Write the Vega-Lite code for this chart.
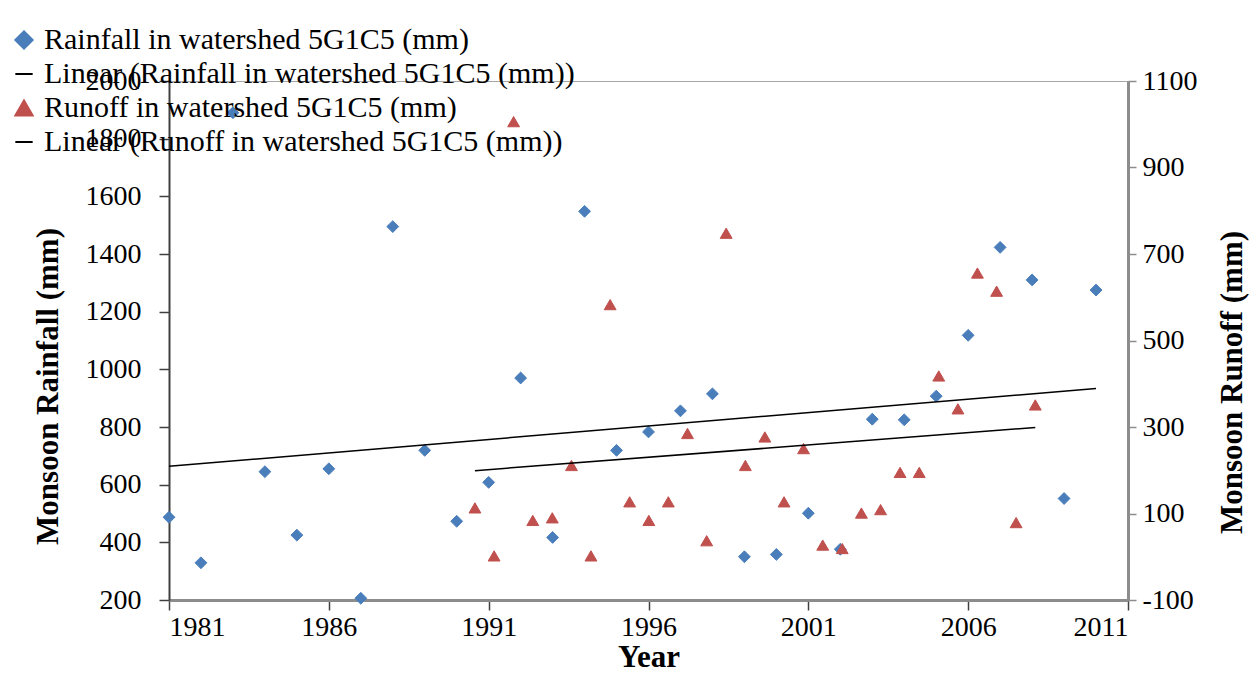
{
  "$schema": "https://vega.github.io/schema/vega-lite/v6.json",
  "autosize": {"type": "none"},
  "width": 959,
  "height": 519,
  "padding": {"left": 169, "top": 81, "right": 124, "bottom": 79},
  "background": "white",
  "config": {
    "font": "Liberation Serif",
    "view": {"stroke": "#a6a6a6", "strokeWidth": 1},
    "axis": {
      "labelFont": "Liberation Serif",
      "titleFont": "Liberation Serif",
      "labelFontSize": 28,
      "titleFontSize": 31,
      "titleFontWeight": "bold",
      "labelColor": "#000000",
      "titleColor": "#000000",
      "grid": false
    },
    "legend": {
      "labelFont": "Liberation Serif",
      "labelFontSize": 30,
      "labelColor": "#000000"
    }
  },
  "datasets": {
    "rain": [
      {"year": 1981, "rainfall": 487},
      {"year": 1982, "rainfall": 329},
      {"year": 1983, "rainfall": 1890},
      {"year": 1984, "rainfall": 645},
      {"year": 1985, "rainfall": 425},
      {"year": 1986, "rainfall": 655},
      {"year": 1987, "rainfall": 206},
      {"year": 1988, "rainfall": 1495},
      {"year": 1989, "rainfall": 719},
      {"year": 1990, "rainfall": 473},
      {"year": 1991, "rainfall": 608},
      {"year": 1992, "rainfall": 970},
      {"year": 1993, "rainfall": 417},
      {"year": 1994, "rainfall": 1548},
      {"year": 1995, "rainfall": 719},
      {"year": 1996, "rainfall": 783},
      {"year": 1997, "rainfall": 856},
      {"year": 1998, "rainfall": 915},
      {"year": 1999, "rainfall": 350},
      {"year": 2000, "rainfall": 358},
      {"year": 2001, "rainfall": 501},
      {"year": 2002, "rainfall": 376},
      {"year": 2003, "rainfall": 827},
      {"year": 2004, "rainfall": 825},
      {"year": 2005, "rainfall": 907},
      {"year": 2006, "rainfall": 1118},
      {"year": 2007, "rainfall": 1423},
      {"year": 2008, "rainfall": 1310},
      {"year": 2009, "rainfall": 552},
      {"year": 2010, "rainfall": 1275}
    ],
    "runoff": [
      {"x": 1990.57, "runoff": 113},
      {"x": 1991.17, "runoff": 2},
      {"x": 1991.78, "runoff": 1006},
      {"x": 1992.38, "runoff": 84},
      {"x": 1992.99, "runoff": 90},
      {"x": 1993.59, "runoff": 211},
      {"x": 1994.2, "runoff": 2},
      {"x": 1994.8, "runoff": 583},
      {"x": 1995.41, "runoff": 127},
      {"x": 1996.01, "runoff": 84},
      {"x": 1996.62, "runoff": 127},
      {"x": 1997.22, "runoff": 285},
      {"x": 1997.82, "runoff": 37},
      {"x": 1998.43, "runoff": 748},
      {"x": 1999.03, "runoff": 211},
      {"x": 1999.64, "runoff": 277},
      {"x": 2000.24, "runoff": 127},
      {"x": 2000.85, "runoff": 250},
      {"x": 2001.45, "runoff": 27},
      {"x": 2002.06, "runoff": 19},
      {"x": 2002.66, "runoff": 101},
      {"x": 2003.26, "runoff": 109},
      {"x": 2003.87, "runoff": 195},
      {"x": 2004.47, "runoff": 195},
      {"x": 2005.08, "runoff": 418},
      {"x": 2005.68, "runoff": 342},
      {"x": 2006.29, "runoff": 656},
      {"x": 2006.89, "runoff": 614},
      {"x": 2007.5, "runoff": 79},
      {"x": 2008.1, "runoff": 351}
    ]
  },
  "layer": [
    {
      "layer": [
        {
          "data": {"name": "rain"},
          "mark": {"type": "point", "filled": true, "size": 140, "strokeWidth": 1, "opacity": 1},
          "encoding": {
            "x": {
              "field": "year", "type": "quantitative", "title": "Year",
              "scale": {"domain": [1981, 2011], "nice": false, "zero": false},
              "axis": {
                "values": [1981, 1986, 1991, 1996, 2001, 2006, 2011],
                "format": "d",
                "domainColor": "#8c8c8c", "domainWidth": 3,
                "tickColor": "#404040", "tickWidth": 1.5, "tickSize": 10,
                "labelPadding": 3, "titlePadding": 1
              }
            },
            "y": {
              "field": "rainfall", "type": "quantitative", "title": "Monsoon Rainfall (mm)",
              "scale": {"domain": [200, 2000], "nice": false, "zero": false},
              "axis": {
                "orient": "left",
                "values": [200, 400, 600, 800, 1000, 1200, 1400, 1600, 1800, 2000],
                "format": "d",
                "domainColor": "#404040", "domainWidth": 2,
                "tickColor": "#404040", "tickWidth": 1.5, "tickSize": 10,
                "labelPadding": 18,
                "titleX": -121, "titleY": 305, "titleBaseline": "middle", "titleAngle": 270
              }
            },
            "color": {
              "datum": "Rainfall in watershed 5G1C5 (mm)",
              "type": "nominal",
              "scale": {
                "domain": ["Rainfall in watershed 5G1C5 (mm)", "Linear (Rainfall in watershed 5G1C5 (mm))", "Runoff in watershed 5G1C5 (mm)", "Linear (Runoff in watershed 5G1C5 (mm))"],
                "range": ["#4a7ebb", "#000000", "#c0504d", "#000000"]
              },
              "legend": {
                "title": null, "orient": "none", "legendX": -160, "legendY": -56,
                "rowPadding": 4, "labelOffset": 5, "labelLimit": 0,
                "symbolSize": 300, "symbolStrokeWidth": 2
              }
            },
            "stroke": {
              "datum": "Rainfall in watershed 5G1C5 (mm)",
              "type": "nominal",
              "scale": {
                "domain": ["Rainfall in watershed 5G1C5 (mm)", "Linear (Rainfall in watershed 5G1C5 (mm))", "Runoff in watershed 5G1C5 (mm)", "Linear (Runoff in watershed 5G1C5 (mm))"],
                "range": ["#4a7ebb", "#000000", "#c0504d", "#000000"]
              },
              "legend": {
                "title": null, "orient": "none", "legendX": -160, "legendY": -56,
                "rowPadding": 4, "labelOffset": 5, "labelLimit": 0,
                "symbolSize": 300, "symbolStrokeWidth": 2
              }
            },
            "shape": {
              "datum": "Rainfall in watershed 5G1C5 (mm)",
              "type": "nominal",
              "scale": {
                "domain": ["Rainfall in watershed 5G1C5 (mm)", "Linear (Rainfall in watershed 5G1C5 (mm))", "Runoff in watershed 5G1C5 (mm)", "Linear (Runoff in watershed 5G1C5 (mm))"],
                "range": ["diamond", "stroke", "triangle-up", "stroke"]
              },
              "legend": {
                "title": null, "orient": "none", "legendX": -160, "legendY": -56,
                "rowPadding": 4, "labelOffset": 5, "labelLimit": 0,
                "symbolSize": 300, "symbolStrokeWidth": 2
              }
            }
          }
        },
        {
          "data": {"name": "rain"},
          "transform": [{"regression": "rainfall", "on": "year"}],
          "mark": {"type": "line", "color": "#000000", "strokeWidth": 1.5},
          "encoding": {
            "x": {"field": "year", "type": "quantitative", "title": "Year"},
            "y": {"field": "rainfall", "type": "quantitative", "title": "Monsoon Rainfall (mm)"}
          }
        }
      ]
    },
    {
      "layer": [
        {
          "data": {"name": "runoff"},
          "mark": {"type": "point", "filled": true, "size": 140, "strokeWidth": 1, "opacity": 1},
          "encoding": {
            "x": {"field": "x", "type": "quantitative", "title": "Year"},
            "y": {
              "field": "runoff", "type": "quantitative", "title": "Monsoon Runoff (mm)",
              "scale": {"domain": [-100, 1100], "nice": false, "zero": false},
              "axis": {
                "orient": "right",
                "values": [-100, 100, 300, 500, 700, 900, 1100],
                "labelExpr": "'' + datum.value",
                "domainColor": "#8c8c8c", "domainWidth": 3,
                "tickColor": "#8c8c8c", "tickWidth": 1.5, "tickSize": 8,
                "labelPadding": 6,
                "titleX": 104, "titleY": 301, "titleBaseline": "middle", "titleAngle": 270
              }
            },
            "color": {"datum": "Runoff in watershed 5G1C5 (mm)", "type": "nominal"},
            "stroke": {"datum": "Runoff in watershed 5G1C5 (mm)", "type": "nominal"},
            "shape": {"datum": "Runoff in watershed 5G1C5 (mm)", "type": "nominal"}
          }
        },
        {
          "data": {"name": "runoff"},
          "transform": [{"regression": "runoff", "on": "x"}],
          "mark": {"type": "line", "color": "#000000", "strokeWidth": 1.5},
          "encoding": {
            "x": {"field": "x", "type": "quantitative", "title": "Year"},
            "y": {"field": "runoff", "type": "quantitative", "title": "Monsoon Runoff (mm)"}
          }
        }
      ]
    }
  ],
  "resolve": {"scale": {"y": "independent"}}
}
